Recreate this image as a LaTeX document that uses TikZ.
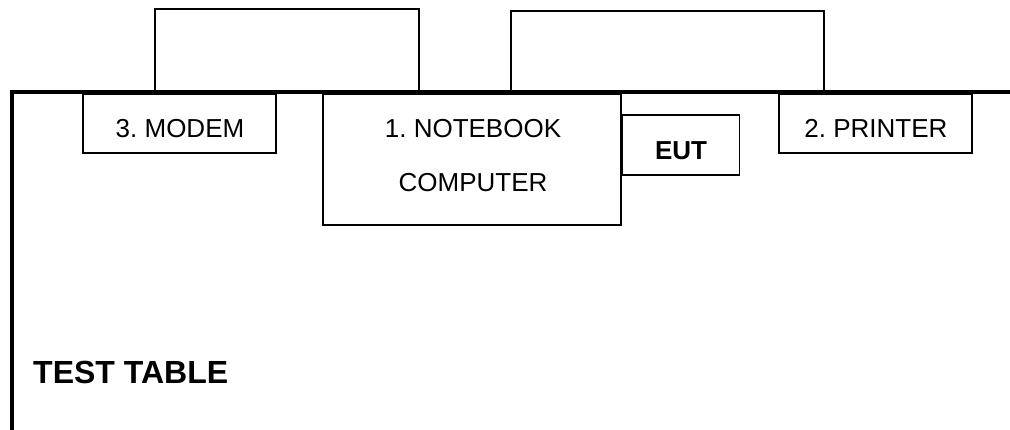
\documentclass[tikz,border=0pt]{standalone}
\usepackage{fontspec}
\setmainfont{Liberation Sans}
\frenchspacing
\begin{document}
\begin{tikzpicture}[x=1pt,y=-1pt,
  box/.style={draw,line width=1.5pt,inner sep=0pt},
  lbl/.style={anchor=base,inner sep=0pt,font=\fontsize{26}{30}\selectfont},
  blbl/.style={anchor=base,inner sep=0pt,font=\fontsize{26}{30}\selectfont\bfseries}]
\useasboundingbox (0,0) rectangle (1010,430);
% cable boxes
\draw[line width=1.5pt] (155,92) |- (419,9) -- (419,92);
\draw[line width=1.5pt] (511,92) |- (824,11) -- (824,92);
% table edges
\draw[line width=4pt] (1012,92) -- (12,92) -- (12,432);
% equipment boxes
\node[box,minimum width=193pt,minimum height=59pt] (modem) at (179.5,123.5) {};
\node[box,minimum width=298pt,minimum height=131pt] (nb) at (472,159.5) {};
\node[box,minimum width=117pt,minimum height=60pt,anchor=west] (eut) at (nb.east|-0,145) {};
\node[box,minimum width=193pt,minimum height=59pt] (printer) at (875.5,123.5) {};
% labels
\node[lbl] (tm) at (180,138) {3. MODEM};
\node[lbl] (tn1) at (473,138) {1. NOTEBOOK};
\node[lbl] (tn2) at (473,192) {COMPUTER};
\node[blbl] (te) at (eut.center|-0,160) {EUT};
\node[lbl] (tp) at (876,138) {2. PRINTER};
\node[anchor=base west,inner sep=0pt,font=\fontsize{32}{36}\selectfont\bfseries] (tt) at (33,384) {TEST TABLE};
\end{tikzpicture}
\end{document}
